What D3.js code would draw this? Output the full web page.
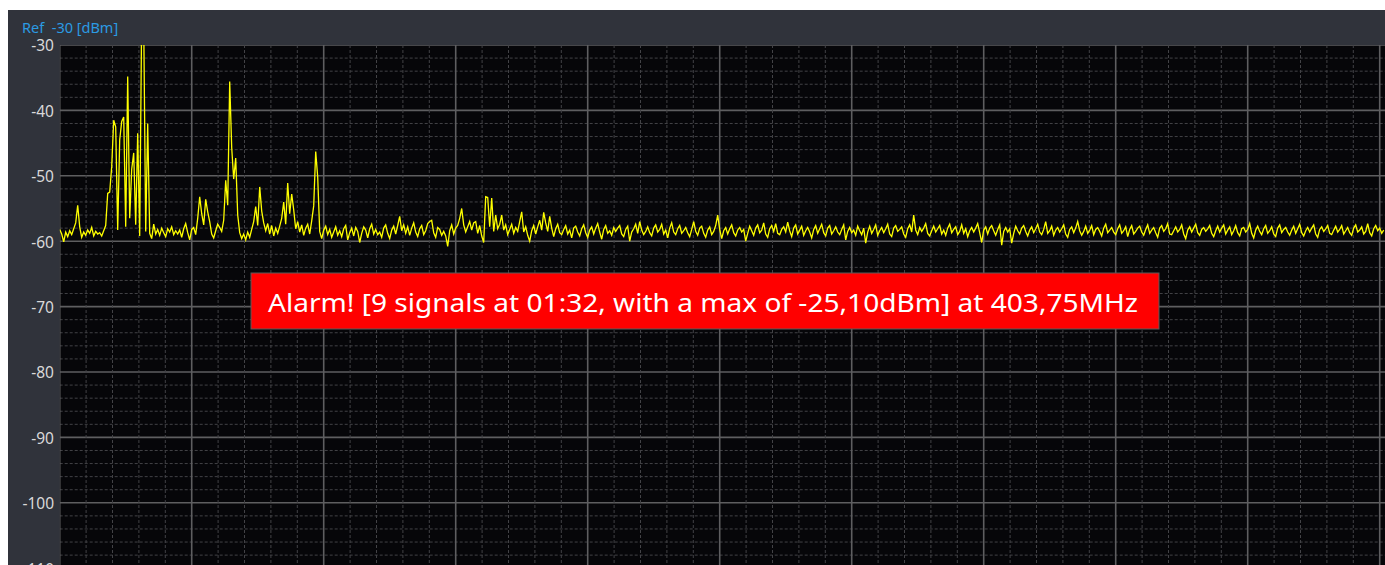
<!DOCTYPE html>
<html>
<head>
<meta charset="utf-8">
<script src="https://cdn.jsdelivr.net/npm/d3@7"></script>
<style>
  body { margin: 0; background: #ffffff; }
  #chart { width: 1385px; height: 565px; overflow: hidden; }
  .ylab text { font-family: "Noto Sans", "Open Sans", sans-serif; font-size: 15.5px; fill: #d9d9d9; }
</style>
</head>
<body>
<div id="chart"></div>
<script>
// spectrum trace in dBm, one value per sweep bin
var trace = [
  -58.2,-58.9,-60.1,-58.6,-59.3,-58.4,-59.0,-58.1,-57.2,-54.5,-57.8,-59.4,-58.6,-59.1,-58.3,-58.8,-57.9,-59.2,-58.5,-58.9,
  -58.7,-59.2,-58.4,-57.6,-52.7,-52.5,-48.6,-41.5,-42.5,-58.3,-44.5,-41.7,-41.0,-57.8,-34.8,-56.5,-49.0,-46.5,-57.5,-43.5,
  -59.2,-25.1,-26.5,-58.5,-42.0,-58.8,-59.6,-57.4,-58.9,-58.2,-59.1,-58.0,-58.7,-59.3,-58.1,-58.6,-57.8,-59.0,-58.4,-58.9,
  -58.3,-59.4,-58.1,-57.3,-58.7,-59.8,-58.2,-57.9,-59.0,-56.5,-53.2,-55.8,-57.5,-53.6,-55.5,-57.0,-58.9,-59.5,-58.4,-57.4,
  -57.9,-58.5,-56.8,-50.7,-54.5,-35.6,-45.7,-50.5,-47.3,-56.0,-58.7,-59.6,-58.9,-59.8,-58.6,-59.4,-58.2,-57.0,-54.7,-57.6,
  -51.7,-55.4,-57.2,-58.4,-57.3,-58.9,-57.6,-59.2,-58.0,-58.8,-57.7,-56.5,-54.0,-57.4,-51.1,-55.8,-52.8,-55.2,-58.1,-57.0,
  -58.6,-57.5,-59.1,-58.0,-57.4,-58.9,-56.9,-54.6,-46.3,-50.2,-58.5,-59.6,-58.3,-57.7,-59.0,-58.2,-59.4,-58.6,-57.8,-59.1,
  -58.4,-59.3,-58.1,-57.6,-59.8,-58.7,-58.0,-59.2,-57.9,-58.5,-60.2,-58.8,-57.8,-58.3,-59.5,-58.1,-57.4,-58.9,-58.2,-59.0,
  -58.6,-59.4,-58.0,-57.5,-58.8,-59.6,-58.3,-57.7,-58.9,-57.6,-56.2,-58.4,-57.5,-58.8,-57.8,-59.1,-58.0,-57.2,-58.6,-59.3,
  -58.1,-57.6,-59.0,-58.4,-57.3,-57.0,-56.8,-58.7,-59.4,-57.9,-58.2,-59.1,-58.5,-59.2,-60.8,-58.4,-57.5,-58.9,-58.0,-57.6,
  -56.5,-55.0,-57.5,-58.6,-57.8,-57.0,-58.3,-57.2,-57.0,-58.8,-57.6,-59.2,-60.2,-53.2,-53.3,-57.8,-53.4,-58.5,-56.0,-58.1,
  -57.4,-56.0,-58.3,-57.5,-59.0,-58.2,-57.4,-58.8,-57.9,-58.5,-57.0,-55.5,-58.6,-57.8,-59.1,-60.0,-58.4,-57.6,-58.9,-57.8,
  -56.8,-58.3,-55.6,-57.2,-58.5,-56.2,-58.0,-59.3,-58.1,-57.4,-58.7,-59.0,-58.2,-57.6,-58.9,-58.3,-59.5,-58.0,-57.7,-58.6,
  -59.2,-58.1,-57.5,-58.7,-59.4,-58.3,-57.8,-58.9,-58.0,-57.3,-58.6,-59.7,-58.2,-57.6,-58.8,-58.4,-59.1,-57.9,-58.5,-58.0,
  -57.6,-58.9,-59.3,-58.2,-57.7,-60.0,-58.6,-58.1,-57.4,-58.8,-57.0,-58.3,-59.0,-58.5,-57.8,-58.7,-59.2,-58.0,-57.5,-58.6,
  -58.2,-57.4,-58.9,-58.3,-59.5,-58.0,-57.2,-58.6,-59.0,-58.1,-57.6,-58.8,-58.4,-57.9,-58.7,-59.3,-58.2,-57.0,-58.5,-59.1,
  -58.0,-57.7,-58.8,-59.4,-58.3,-57.8,-59.0,-58.5,-57.6,-56.0,-58.2,-59.6,-58.4,-57.9,-58.9,-58.1,-57.5,-58.7,-59.2,-58.3,
  -57.9,-58.6,-58.2,-60.0,-58.8,-57.7,-58.4,-59.1,-58.0,-57.5,-58.7,-58.3,-57.2,-58.9,-59.4,-58.1,-57.6,-58.5,-57.3,-58.8,
  -59.0,-58.2,-57.8,-58.6,-57.1,-58.4,-59.3,-58.0,-57.5,-58.9,-58.3,-57.7,-59.1,-58.4,-57.9,-58.6,-59.5,-58.2,-57.6,-58.8,
  -58.1,-57.4,-58.7,-59.2,-58.0,-57.6,-58.9,-58.4,-57.8,-58.6,-59.0,-58.2,-57.5,-59.8,-58.5,-57.9,-58.7,-58.3,-59.1,-57.7,
  -58.4,-59.0,-58.0,-60.3,-58.6,-57.7,-58.8,-58.2,-57.5,-59.1,-58.4,-57.9,-58.7,-58.1,-57.4,-58.9,-59.3,-58.0,-57.6,-58.5,
  -58.2,-57.8,-58.9,-59.4,-58.1,-57.5,-58.6,-56.0,-58.3,-59.0,-57.9,-58.5,-58.0,-57.3,-58.8,-59.2,-58.4,-57.7,-58.6,-58.1,
  -57.6,-58.9,-58.3,-59.1,-58.0,-57.4,-58.7,-58.2,-57.8,-59.0,-58.5,-57.5,-58.8,-58.1,-59.3,-58.4,-57.9,-58.6,-58.0,-57.3,
  -58.7,-60.2,-58.3,-57.8,-58.9,-58.0,-57.6,-58.4,-59.1,-58.2,-57.5,-60.6,-58.5,-57.9,-58.6,-58.1,-60.3,-58.8,-57.7,-58.4,
  -58.9,-58.0,-57.6,-58.5,-59.2,-58.3,-57.8,-58.7,-58.1,-57.4,-58.6,-59.0,-58.2,-57.0,-58.8,-58.4,-57.7,-59.1,-58.3,-57.9,
  -58.6,-58.1,-57.5,-58.9,-59.4,-58.2,-57.8,-58.7,-58.0,-57.0,-58.4,-59.1,-58.5,-57.7,-58.8,-58.3,-57.6,-59.0,-58.2,-57.9,
  -58.5,-59.2,-58.0,-57.4,-58.7,-58.3,-57.9,-58.6,-59.0,-58.1,-57.5,-58.8,-58.4,-57.8,-59.3,-58.2,-57.6,-58.9,-58.5,-58.0,
  -57.7,-58.6,-59.1,-58.2,-57.5,-58.8,-58.3,-57.9,-58.7,-59.4,-58.0,-57.6,-58.5,-58.1,-57.3,-58.9,-59.0,-58.4,-57.8,-58.6,
  -58.2,-57.5,-58.9,-59.6,-58.3,-57.8,-58.6,-58.0,-57.4,-58.7,-59.1,-58.2,-57.9,-58.5,-58.1,-57.6,-58.8,-59.3,-58.4,-57.7,
  -58.6,-58.0,-57.5,-58.9,-58.3,-57.8,-59.0,-58.4,-57.6,-58.7,-59.2,-58.1,-57.9,-58.6,-58.2,-57.3,-58.8,-59.5,-58.3,-57.7,
  -58.5,-59.0,-58.1,-57.6,-58.8,-58.4,-57.8,-58.9,-59.3,-58.0,-57.5,-58.7,-58.2,-57.9,-58.6,-59.1,-58.3,-57.7,-58.8,-58.1,
  -57.4,-58.7,-59.2,-58.4,-57.9,-58.6,-58.0,-57.5,-58.9,-59.4,-58.2,-57.8,-58.5,-58.1,-57.6,-58.8,-59.0,-58.3,-57.7,-58.6,
  -58.2,-57.6,-58.9,-58.4,-57.9,-58.7,-59.1,-58.0,-57.5,-58.6,-58.3,-57.8,-58.9,-58.5,-57.3,-58.7,-59.2,-58.1,-57.6,-58.4,
  -58.0,-58.8,-58.3
];

var yTicks = [-30, -40, -50, -60, -70, -80, -90, -100, -110];
var refLabel = "Ref\u00a0\u00a0-30 [dBm]";
var alarmText = "Alarm! [9 signals at 01:32, with a max of -25,10dBm] at 403,75MHz";

var W = 1385, H = 565;
var plot = {left: 59.7, top: 45, right: 1385, bottom: 565};

var x = d3.scaleLinear()
  .domain([0, trace.length - 1])
  .range([plot.left, plot.left + 2 * (trace.length - 1)]);

var y = d3.scaleLinear()
  .domain([-30, -110])
  .range([plot.top, plot.top + 8 * 65.4]);

var svg = d3.select("#chart").append("svg")
  .attr("width", W)
  .attr("height", H);

// panel
svg.append("rect")
  .attr("x", 8).attr("y", 10)
  .attr("width", W - 8).attr("height", H - 10)
  .style("fill", "#30333b");

svg.append("rect")
  .attr("x", plot.left).attr("y", plot.top)
  .attr("width", plot.right - plot.left).attr("height", plot.bottom - plot.top)
  .style("fill", "#060609");

svg.append("clipPath").attr("id", "clip")
  .append("rect")
  .attr("x", plot.left).attr("y", plot.top)
  .attr("width", plot.right - plot.left).attr("height", plot.bottom - plot.top);

var grid = svg.append("g").attr("clip-path", "url(#clip)");

// grid: minor every 2 dB / 13.2 bins, major every 10 dB / 66 bins
var hLines = d3.range(-30, -112, -2);
grid.selectAll(".hgrid")
  .data(hLines)
  .enter().append("line")
  .attr("x1", plot.left).attr("x2", plot.right)
  .attr("y1", function(d) { return y(d); })
  .attr("y2", function(d) { return y(d); })
  .style("stroke", function(d) { return d % 10 == 0 ? "#5e5e60" : "#424246"; })
  .style("stroke-width", function(d) { return d % 10 == 0 ? 1.6 : 1; })
  .style("stroke-dasharray", function(d) { return d % 10 == 0 ? null : "3,2"; });

var vLines = d3.range(0, 51);
grid.selectAll(".vgrid")
  .data(vLines)
  .enter().append("line")
  .attr("x1", function(d) { return x(d * 13.2); })
  .attr("x2", function(d) { return x(d * 13.2); })
  .attr("y1", plot.top).attr("y2", plot.bottom)
  .style("stroke", function(d) { return d % 5 == 0 ? "#5e5e60" : "#424246"; })
  .style("stroke-width", function(d) { return d % 5 == 0 ? 1.6 : 1; })
  .style("stroke-dasharray", function(d) { return d % 5 == 0 ? null : "3,2"; });

// trace
var line = d3.line()
  .x(function(d, i) { return x(i); })
  .y(function(d) { return y(d); });

grid.append("path")
  .datum(trace)
  .attr("d", line)
  .style("fill", "none")
  .style("stroke", "#ffff00")
  .style("stroke-width", 1.3);

// y labels, plain hyphen as in the instrument
svg.append("g")
  .attr("class", "ylab")
  .attr("transform", "translate(54,1)")
  .call(d3.axisLeft(y).tickValues(yTicks).tickSize(0).tickPadding(0).tickFormat(function(d) { return String(d); }))
  .call(function(g) { g.select(".domain").remove(); });

svg.append("text")
  .attr("x", 22).attr("y", 33)
  .style("font-family", "'Noto Sans', 'Open Sans', sans-serif")
  .style("font-size", "14.5px")
  .style("fill", "#2b9be3")
  .text(refLabel);

// alarm banner
svg.append("rect")
  .attr("x", 251).attr("y", 273)
  .attr("width", 908).attr("height", 56)
  .style("fill", "#ff0000")
  .style("stroke", "#5a5a5a")
  .style("stroke-width", 1);

svg.append("text")
  .attr("x", 268).attr("y", 312)
  .attr("textLength", 870)
  .attr("lengthAdjust", "spacingAndGlyphs")
  .style("font-family", "'Noto Sans', 'Open Sans', sans-serif")
  .style("font-size", "25px")
  .style("fill", "#ffffff")
  .text(alarmText);
</script>
</body>
</html>
